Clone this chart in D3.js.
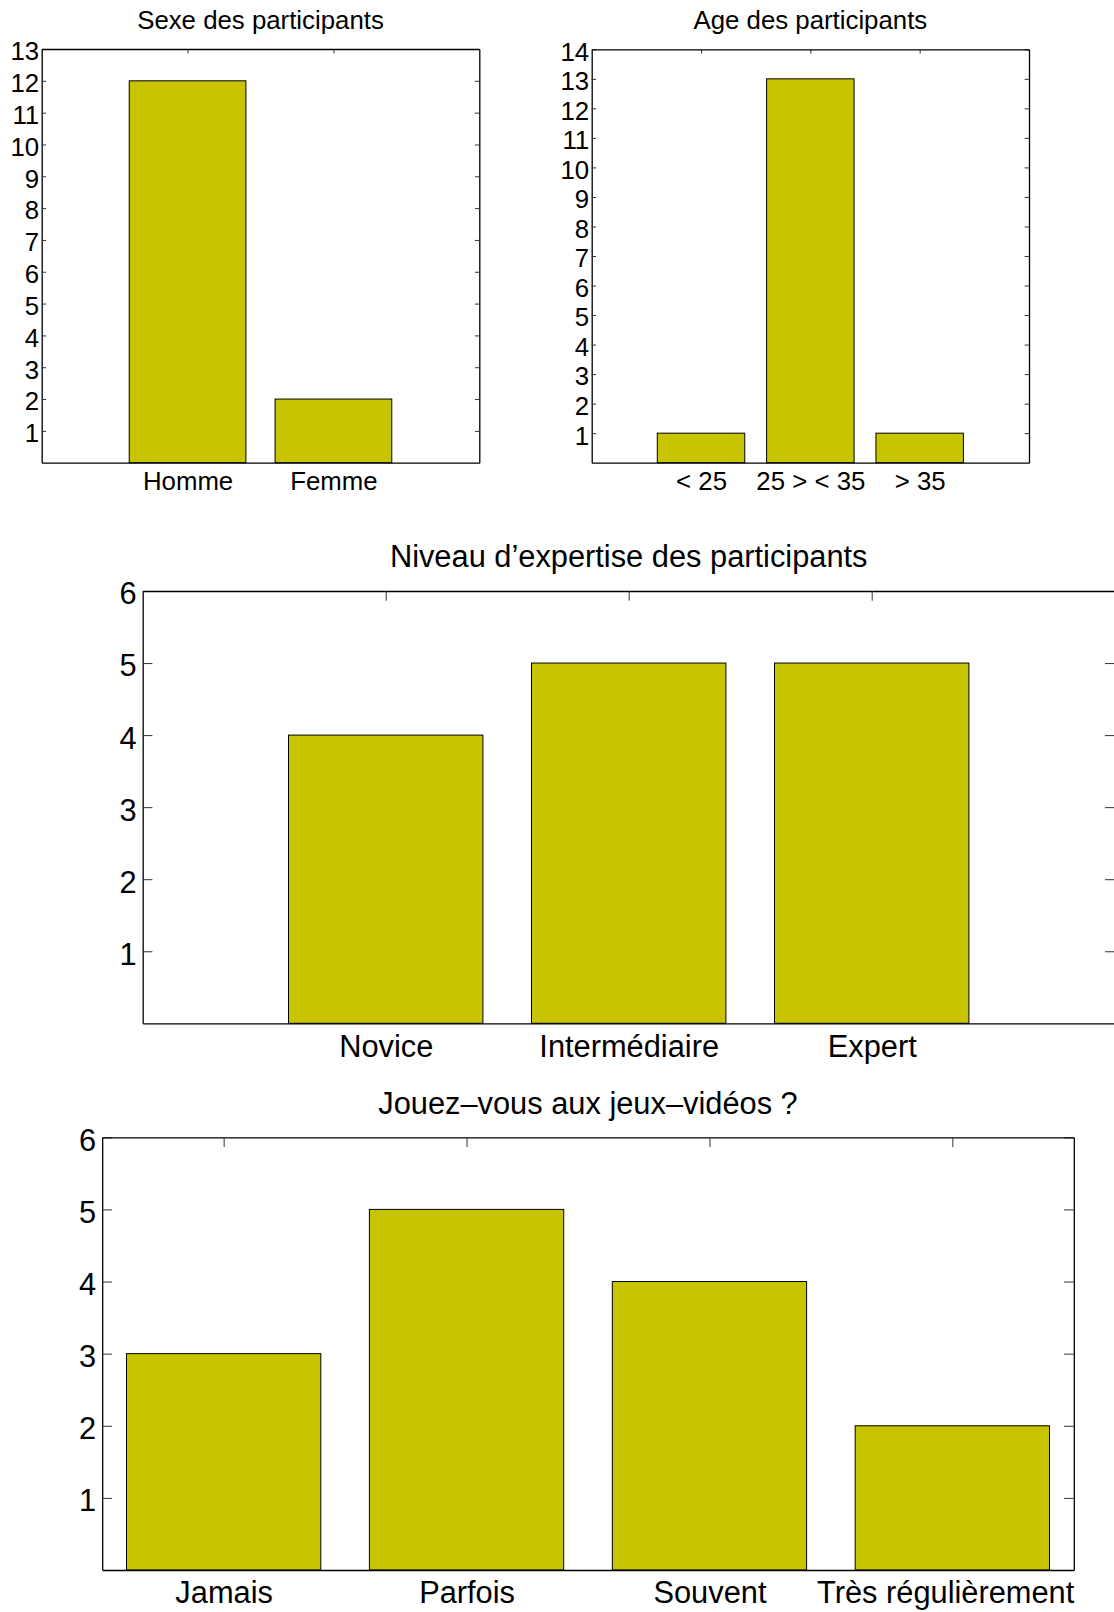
<!DOCTYPE html>
<html>
<head>
<meta charset="utf-8">
<script src="https://cdn.jsdelivr.net/npm/d3@7"></script>
<style>
  body { margin: 0; background: #fff; }
  svg text { font-family: "Liberation Sans", Arial, Helvetica, sans-serif; fill: #000; }
</style>
</head>
<body>
<svg id="fig" width="1114" height="1612"></svg>
<script>
// Sexe des participants
const sexeCats = ['Homme', 'Femme'];
const sexeVals = [12, 2];
const sexeTicks = [1, 2, 3, 4, 5, 6, 7, 8, 9, 10, 11, 12, 13];

// Age des participants
const ageCats = ['< 25', '25 > < 35', '> 35'];
const ageVals = [1, 13, 1];
const ageTicks = [1, 2, 3, 4, 5, 6, 7, 8, 9, 10, 11, 12, 13, 14];

// Niveau d'expertise
const niveauCats = ['Novice', 'Intermédiaire', 'Expert'];
const niveauVals = [4, 5, 5];
const niveauTicks = [1, 2, 3, 4, 5, 6];

// Jeux-vidéos
const jeuxCats = ['Jamais', 'Parfois', 'Souvent', 'Très régulièrement'];
const jeuxVals = [3, 5, 4, 2];
const jeuxTicks = [1, 2, 3, 4, 5, 6];

const barColor = '#c8c400';
const svg = d3.select('#fig');

// layout of each panel (axes box in pixels)
const panels = [
    {title: 'Sexe des participants', cats: sexeCats, vals: sexeVals, ticks: sexeTicks,
     x0: 41.7, x1: 479.3, y0: 49, y1: 462.7, xlim: [0, 3], fs: 25.8, pad: 2.5, labelDy: 1.06},
    {title: 'Age des participants', cats: ageCats, vals: ageVals, ticks: ageTicks,
     x0: 591.7, x1: 1029, y0: 49.3, y1: 462.7, xlim: [0, 4], fs: 25.8, pad: 2.5, labelDy: 1.06},
    {title: 'Niveau d\u2019expertise des participants', cats: niveauCats, vals: niveauVals, ticks: niveauTicks,
     x0: 142.7, x1: 1114.7, y0: 591, y1: 1023.3, xlim: [0, 4], fs: 30.8, pad: 6, labelDy: 1.1},
    {title: 'Jouez\u2013vous aux jeux\u2013vidéos ?', cats: jeuxCats, vals: jeuxVals, ticks: jeuxTicks,
     x0: 102.2, x1: 1073.8, y0: 1137.3, y1: 1570, xlim: [0.5, 4.5], fs: 30.8, pad: 6, labelDy: 1.07}
];

panels.forEach(drawPanel);

function drawPanel(p) {
    const x = d3.scaleLinear().domain(p.xlim).range([p.x0, p.x1]);
    const y = d3.scaleLinear().domain([0, d3.max(p.ticks)]).range([p.y1, p.y0]);
    const pos = p.cats.map((d, i) => i + 1);
    const tl = Math.max(p.x1 - p.x0, p.y1 - p.y0) * 0.01; // tick length
    const g = svg.append('g');

    // bars
    g.selectAll('rect.bar')
        .data(p.vals)
        .enter()
        .append('rect')
        .attr('class', 'bar')
        .attr('x', (d, i) => x(pos[i] - 0.4))
        .attr('width', (d, i) => x(pos[i] + 0.4) - x(pos[i] - 0.4))
        .attr('y', d => y(d))
        .attr('height', d => y(0) - y(d))
        .attr('fill', barColor)
        .attr('stroke', '#000')
        .attr('stroke-width', 1);

    // left axis with labels
    const left = g.append('g')
        .attr('transform', `translate(${p.x0},0)`)
        .call(d3.axisLeft(y).tickValues(p.ticks).tickSize(-tl).tickSizeOuter(0)
            .tickPadding(p.pad).tickFormat(d3.format('d')));
    left.selectAll('text').attr('font-size', p.fs).attr('dy', '0.42em');

    // right axis, ticks only
    g.append('g')
        .attr('transform', `translate(${p.x1},0)`)
        .call(d3.axisRight(y).tickValues(p.ticks).tickSize(-tl).tickSizeOuter(0).tickFormat(''));

    // top axis, ticks only
    g.append('g')
        .attr('transform', `translate(0,${p.y0})`)
        .call(d3.axisTop(x).tickValues(pos).tickSize(-tl).tickSizeOuter(0).tickFormat(''));

    // bottom axis with category labels
    const bottom = g.append('g')
        .attr('transform', `translate(0,${p.y1})`)
        .call(d3.axisBottom(x).tickValues(pos).tickSize(0).tickSizeOuter(0)
            .tickFormat((d, i) => p.cats[i]));
    bottom.selectAll('text')
        .attr('font-size', p.fs)
        .attr('y', 0)
        .attr('dy', (p.fs * p.labelDy) + 'px')
        .each(function(d) {
            // keep long labels inside the axes box, like the original
            const half = this.getComputedTextLength() / 2;
            const over = x(d) + half - p.x1;
            if (over > 0) d3.select(this).attr('x', -over);
        });

    g.selectAll('.domain').attr('stroke', '#000').attr('stroke-width', 1.3);
    g.selectAll('.tick line').attr('stroke', '#333').attr('stroke-width', 1);
    g.selectAll('.tick text').attr('fill', '#000').attr('font-family', null);

    // title
    g.append('text')
        .attr('x', (p.x0 + p.x1) / 2)
        .attr('y', p.y0 - p.fs * 0.77)
        .attr('text-anchor', 'middle')
        .attr('font-size', p.fs)
        .text(p.title);
}
</script>
</body>
</html>
